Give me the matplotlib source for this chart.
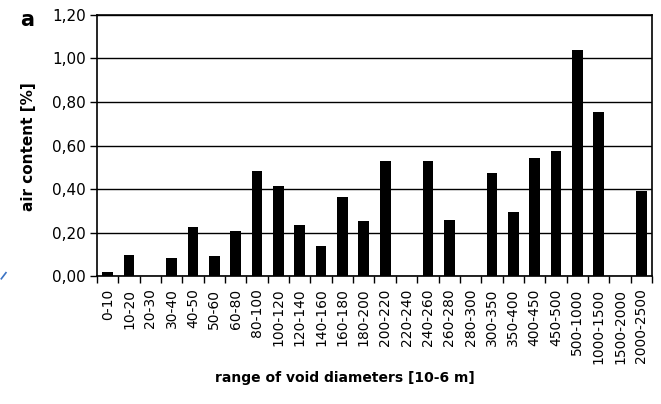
import numpy as np
import matplotlib
matplotlib.use("Agg")
import matplotlib.pyplot as plt
from matplotlib.lines import Line2D
from matplotlib.ticker import FuncFormatter

ranges = ["0-10", "10-20", "20-30", "30-40", "40-50", "50-60", "60-80", "80-100",
          "100-120", "120-140", "140-160", "160-180", "180-200", "200-220",
          "220-240", "240-260", "260-280", "280-300", "300-350", "350-400",
          "400-450", "450-500", "500-1000", "1000-1500", "1500-2000", "2000-2500"]
air_content = [0.018, 0.095, 0.0, 0.083, 0.224, 0.092, 0.206, 0.482,
               0.416, 0.233, 0.138, 0.364, 0.252, 0.528,
               0.0, 0.528, 0.258, 0.0, 0.474, 0.292,
               0.543, 0.575, 1.039, 0.756, 0.0, 0.39]
y_ticks = [0.0, 0.2, 0.4, 0.6, 0.8, 1.0, 1.2]

plt.rcParams["font.family"] = "DejaVu Sans"

fig = plt.figure(figsize=(6.61, 4.04), dpi=100)
ax = fig.add_axes([0.1467, 0.3168, 0.8397, 0.6461])

x = np.arange(len(ranges))
ax.bar(x, air_content, width=0.5, color="black", zorder=3)

ax.set_xlim(-0.5, len(ranges) - 0.5)
ax.set_ylim(0, 1.2)
ax.set_yticks(y_ticks)
ax.yaxis.set_major_formatter(FuncFormatter(lambda v, p: f"{v:.2f}".replace(".", ",")))
ax.grid(axis="y", color="black", lw=1, zorder=1)

# labels at bar centres, tick marks at category boundaries
ax.set_xticks(x)
ax.set_xticklabels(ranges, rotation=90, fontsize=10)
ax.set_xticks(np.arange(len(ranges) + 1) - 0.5, minor=True)
ax.tick_params(axis="x", which="major", length=0, pad=9)
ax.tick_params(axis="x", which="minor", length=5, width=1, direction="out")
ax.tick_params(axis="y", length=5, width=1, labelsize=11, pad=3)

for s in ax.spines.values():
    s.set_color("black")
    s.set_linewidth(1.2)

ax.set_ylabel("air content [%]", fontweight="bold", fontsize=11, va="center")
ax.yaxis.set_label_coords(-0.124, 0.496)
ax.set_xlabel("range of void diameters [10-6 m]", fontweight="bold", fontsize=10, va="center")
ax.xaxis.set_label_coords(0.447, -0.39)

fig.text(0.03, 0.95, "a", fontweight="bold", fontsize=15, va="center", ha="left")
fig.add_artist(Line2D([0.002, 0.009], [0.31, 0.325], color="#3b73c4", lw=1.2,
                      transform=fig.transFigure))

fig.savefig("out.png", dpi=100)
